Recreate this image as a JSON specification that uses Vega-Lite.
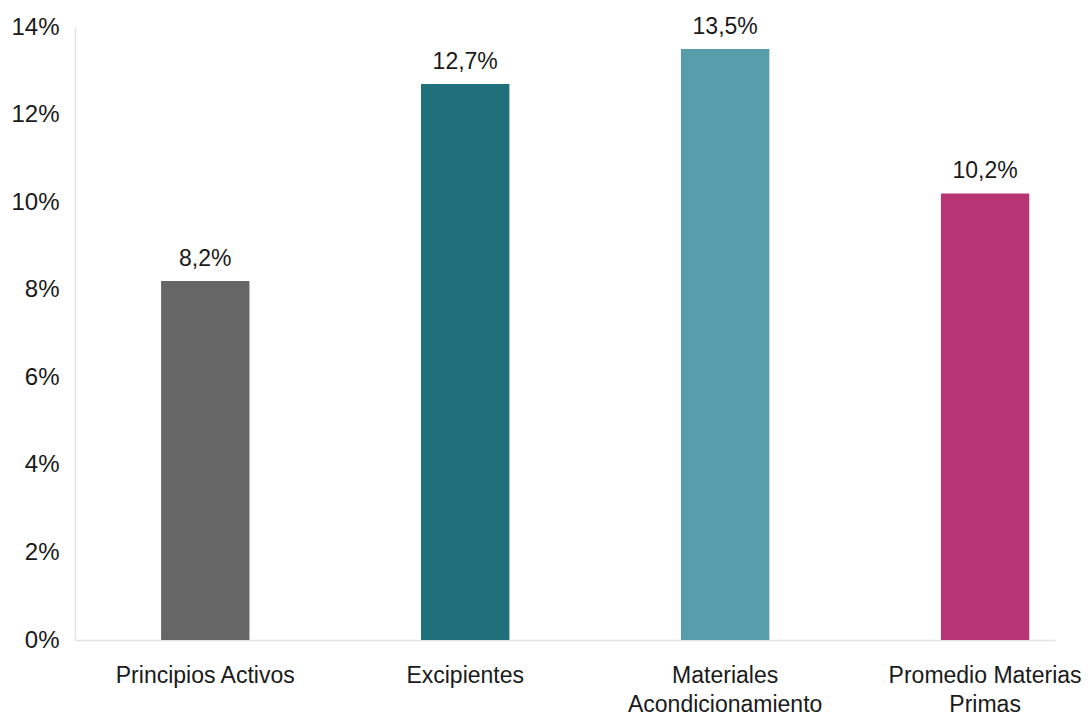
{
  "$schema": "https://vega.github.io/schema/vega-lite/v6.json",
  "autosize": {"type": "none"},
  "width": 980,
  "height": 613,
  "padding": {"left": 75, "top": 27, "right": 35, "bottom": 75},
  "background": "white",
  "config": {
    "view": {"stroke": null},
    "font": "Liberation Sans",
    "locale": {"number": {"decimal": ",", "thousands": ".", "grouping": [3], "currency": ["", " €"]}}
  },
  "data": {
    "values": [
      {"categoria": "Principios Activos", "valor": 0.082},
      {"categoria": "Excipientes", "valor": 0.127},
      {"categoria": "Materiales Acondicionamiento", "valor": 0.135},
      {"categoria": "Promedio Materias Primas", "valor": 0.102}
    ]
  },
  "encoding": {
    "x": {
      "field": "categoria",
      "type": "nominal",
      "sort": null,
      "scale": {"paddingInner": 0.66, "paddingOuter": 0.215, "align": 0.77},
      "axis": {
        "title": null,
        "labelAngle": 0,
        "labelFontSize": 23,
        "labelColor": "#1a1a1a",
        "labelPadding": 42,
        "labelLineHeight": 29,
        "labelLimit": 0,
        "labelBaseline": "alphabetic",
        "labelOverlap": false,
        "ticks": false,
        "domainColor": "#e3e3e3",
        "domainWidth": 1.5,
        "labelExpr": "datum.value == 'Materiales Acondicionamiento' ? ['Materiales', 'Acondicionamiento'] : datum.value == 'Promedio Materias Primas' ? ['Promedio Materias', 'Primas'] : datum.value"
      }
    },
    "y": {
      "field": "valor",
      "type": "quantitative",
      "scale": {"domain": [0, 0.14], "nice": false},
      "axis": {
        "title": null,
        "format": ".0%",
        "values": [0, 0.02, 0.04, 0.06, 0.08, 0.1, 0.12, 0.14],
        "grid": false,
        "ticks": false,
        "labelFontSize": 24,
        "labelColor": "#1a1a1a",
        "labelPadding": 16,
        "domainColor": "#e3e3e3",
        "domainWidth": 1.5
      }
    }
  },
  "layer": [
    {
      "mark": {"type": "bar"},
      "encoding": {
        "color": {
          "field": "categoria",
          "type": "nominal",
          "legend": null,
          "scale": {
            "domain": ["Principios Activos", "Excipientes", "Materiales Acondicionamiento", "Promedio Materias Primas"],
            "range": ["#666666", "#1f707b", "#579dac", "#b73575"]
          }
        }
      }
    },
    {
      "mark": {"type": "text", "baseline": "alphabetic", "dy": -15, "fontSize": 23, "color": "#1a1a1a"},
      "encoding": {
        "text": {"field": "valor", "type": "quantitative", "format": ".1%"}
      }
    }
  ]
}
